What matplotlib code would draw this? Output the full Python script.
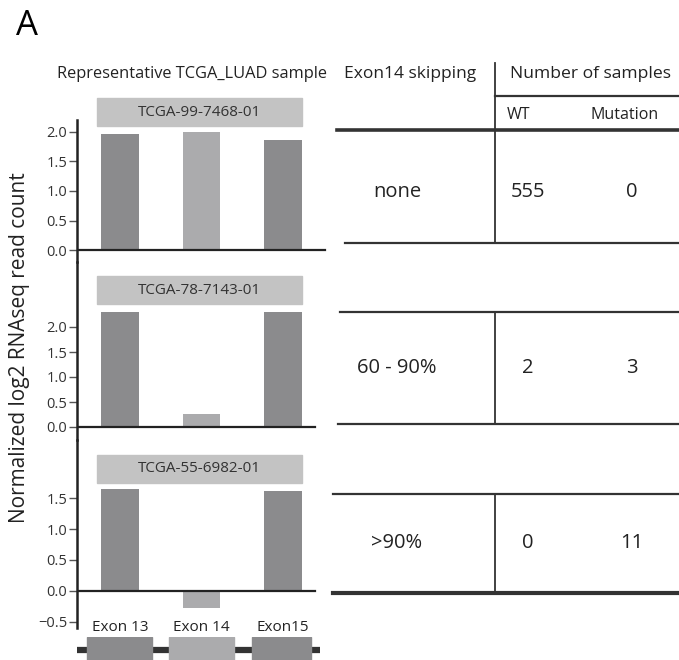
import numpy as np
import matplotlib
matplotlib.use('Agg')
import matplotlib.pyplot as plt
from matplotlib.patches import Rectangle
from matplotlib.lines import Line2D

plt.rcParams['font.family'] = ['Open Sans', 'DejaVu Sans']

# data
exons = ['Exon 13', 'Exon 14', 'Exon15']
samples = ['TCGA-99-7468-01', 'TCGA-78-7143-01', 'TCGA-55-6982-01']
counts = [
    [1.96, 2.00, 1.86],
    [2.30, 0.26, 2.30],
    [1.65, -0.27, 1.62],
]
skip_groups = ['none', '60 - 90%', '>90%']
wt_counts = [555, 2, 0]
mut_counts = [0, 3, 11]

W, H = 679, 660
fig = plt.figure(figsize=(W / 100, H / 100), dpi=100)


def px(x0, y0, x1, y1):
    return [x0 / W, 1 - y1 / H, (x1 - x0) / W, (y1 - y0) / H]


dark = '#8b8b8d'
light = '#ababad'
box_c = '#c3c3c3'
ink = '#222222'
bar_colors = [dark, light, dark]

# panel rects (pixels) and y ranges
panels = [
    (120, 262, (-0.20, 2.20), [0, 0.5, 1.0, 1.5, 2.0]),
    (262, 440, (-0.26, 3.30), [0, 0.5, 1.0, 1.5, 2.0]),
    (440, 628, (-0.60, 2.44), [-0.5, 0, 0.5, 1.0, 1.5]),
]
xpos = np.arange(len(exons))
xlim = (-0.525, 2.575)

axes = []
for i, (top, bot, ylim, ticks) in enumerate(panels):
    ax = fig.add_axes(px(77, top, 330, bot))
    ax.bar(xpos, counts[i], width=0.46, color=bar_colors, zorder=2)
    ax.axhline(0, color=ink, lw=1.6, xmin=0, xmax=0.98 if i == 0 else 0.94, zorder=3)
    ax.set_xlim(*xlim)
    ax.set_ylim(*ylim)
    ax.set_yticks(ticks)
    ax.set_yticklabels(['%.1f' % t if t >= 0 else '\u22120.5' for t in ticks])
    ax.tick_params(axis='y', length=6, width=1, color='#555555', labelsize=10.5,
                   labelcolor='#333333', pad=1)
    for s in ['top', 'right', 'bottom']:
        ax.spines[s].set_visible(False)
    ax.spines['left'].set_linewidth(1.8)
    ax.spines['left'].set_color(ink)
    ax.set_facecolor('none')
    axes.append(ax)

# sample label boxes
box_tops = [98, 276, 455]
for i, ax in enumerate(axes):
    top, bot = panels[i][0], panels[i][1]
    y1 = 1 - (box_tops[i] - top) / (bot - top)
    y0 = 1 - (box_tops[i] + 28 - top) / (bot - top)
    r = Rectangle((-0.275, y0), 2.51, y1 - y0, color=box_c, clip_on=False,
                  transform=ax.get_xaxis_transform(), zorder=1)
    ax.add_patch(r)
    ax.text(0.98, (y0 + y1) / 2, samples[i], transform=ax.get_xaxis_transform(),
            ha='center', va='center', fontsize=11, color='#333333')

axes[0].set_xticks([])
axes[1].set_xticks([])
axes[2].set_xticks(xpos)
axes[2].set_xticklabels(exons, fontsize=11, color='#222222')
axes[2].tick_params(axis='x', length=0, pad=-6)

# gene diagram
axg = fig.add_axes(px(77, 637, 330, 660))
axg.set_xlim(*xlim)
axg.set_ylim(0, 1)
axg.axis('off')
axg.plot([-0.54, 2.45], [0.45, 0.45], color='#333333', lw=4.5, solid_capstyle='butt')
for xi, c in zip(xpos, bar_colors):
    axg.add_patch(Rectangle((xi - 0.40 + (0.02 if xi == 2 else 0), 0), 0.80 - (0.08 if xi == 2 else 0), 1.0,
                            color=c, zorder=2))

# titles
fig.text(16 / W, 1 - 26 / H, 'A', fontsize=25, ha='left', va='center', color='black')
fig.text(192 / W, 1 - 74 / H, 'Representative TCGA_LUAD sample', fontsize=11.8,
         ha='center', va='center', color='#222222')
fig.text(20 / W, 1 - 348 / H, 'Normalized log2 RNAseq read count', fontsize=15,
         rotation=90, ha='center', va='center', color='#222222')

# table
def hline(y, x0, x1, lw):
    fig.add_artist(Line2D([x0 / W, x1 / W], [1 - y / H, 1 - y / H], color='#333333', lw=lw))


def vline(x, y0, y1, lw=1.3):
    fig.add_artist(Line2D([x / W, x / W], [1 - y0 / H, 1 - y1 / H], color='#333333', lw=lw))


fig.text(410 / W, 1 - 74 / H, 'Exon14 skipping', fontsize=12.5, ha='center', va='center', color='#222222')
fig.text(590 / W, 1 - 74 / H, 'Number of samples', fontsize=12.6, ha='center', va='center', color='#222222')
fig.text(519 / W, 1 - 115 / H, 'WT', fontsize=11.5, ha='center', va='center', color='#222222')
fig.text(625 / W, 1 - 115 / H, 'Mutation', fontsize=11.5, ha='center', va='center', color='#222222')
vline(495, 63, 130)
hline(96, 495, 679, 1.6)
hline(130, 337, 679, 2.6)

rows = [(130, 243, 345, 2.6, 1.6), (312, 424, 340, 1.6, 1.6), (494, 593, 333, 1.6, 3.0)]
for i, (y0, y1, xl, lw0, lw1) in enumerate(rows):
    if i > 0:
        hline(y0, xl, 679, lw0)
    hline(y1, xl if i != 1 else 338, 679, lw1)
    vline(495, y0, y1)
    yc = (y0 + y1) / 2
    if i == 0:
        yc = 192
    fig.text(397 / W, 1 - yc / H, skip_groups[i], fontsize=14.5, ha='center', va='center', color='#222222')
    fig.text(528 / W, 1 - yc / H, str(wt_counts[i]), fontsize=14.5, ha='center', va='center', color='#222222')
    fig.text(632 / W, 1 - yc / H, str(mut_counts[i]), fontsize=14.5, ha='center', va='center', color='#222222')

fig.savefig('out.png', dpi=100)
